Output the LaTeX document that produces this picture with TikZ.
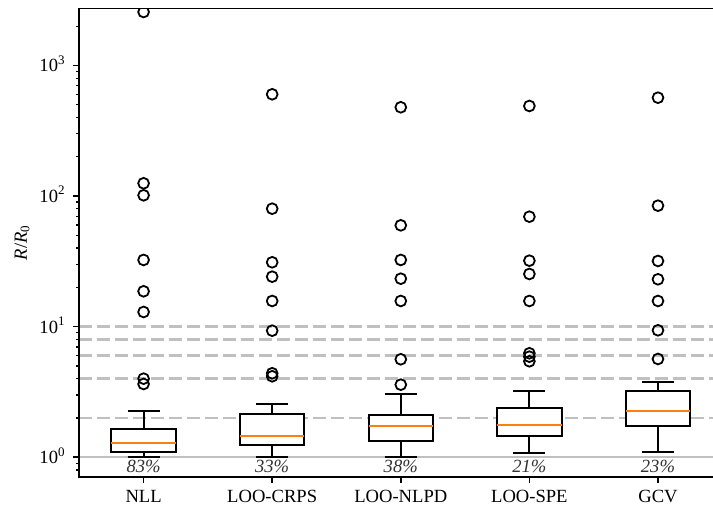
\documentclass[tikz,border=0pt]{standalone}
\usepackage{fontspec}
\setmainfont{Liberation Serif}
\usetikzlibrary{positioning}
\definecolor{medorange}{HTML}{FF7F0E}
\definecolor{guidegray}{HTML}{C0C0C0}
\newcommand{\tenexp}[1]{10\textsuperscript{#1}}

\begin{document}
\begin{tikzpicture}[x=64.3pt,y=65.3pt,font=\fontsize{9.3}{11}\selectfont,
    spine/.style={line width=0.9pt,line cap=rect},
    guide/.style={draw=guidegray,line width=1.3pt,dash pattern=on 6.4pt off 2.6pt},
    unity/.style={draw=guidegray,line width=1.1pt},
    boxline/.style={draw,fill=white,line width=1pt},
    medline/.style={draw=medorange,line width=1pt},
    flier/.style={draw,circle,line width=0.9pt,minimum size=5.4pt,inner sep=0pt},
    ticklbl/.style={inner sep=0pt}]
  \useasboundingbox (-0.1166,-0.419) rectangle (5.428,3.5015);
  % reference lines
  \foreach \g in {2,4,6,8,10}
    \draw[guide] (0.5,{log10(\g)}) -- (5.5,{log10(\g)});
  \draw[unity] (0.5,0) -- (5.5,0);
  % boxes: pos / whisker low / q1 / median / q3 / whisker high / share
  \foreach \pos/\wlo/\qlo/\med/\qhi/\whi/\pct in {
      1/0/0.0406/0.1118/0.2144/0.3522/83,
      2/0/0.0964/0.1631/0.3315/0.4058/33,
      3/0/0.1225/0.2420/0.3262/0.4847/38,
      4/0.0329/0.1654/0.2496/0.3752/0.5077/21,
      5/0.0406/0.2420/0.3545/0.5054/0.5743/23} {
    \draw[line width=1pt] (\pos,\qhi) -- (\pos,\whi) (\pos-0.125,\whi) -- (\pos+0.125,\whi);
    \draw[line width=1pt] (\pos,\qlo) -- (\pos,\wlo) (\pos-0.125,\wlo) -- (\pos+0.125,\wlo);
    \draw[boxline] (\pos-0.25,\qlo) rectangle (\pos+0.25,\qhi);
    \draw[medline] (\pos-0.25,\med) -- (\pos+0.25,\med);
    \node[ticklbl,anchor=north,text=black!80] (pct\pos) at (\pos,-0.017) {\textit{\pct\%}};
  }
  % outliers
  \begin{scope}
    \clip (0.5,-0.149) rectangle (5.5,3.437);
    \foreach \pos/\ys in {
        1/{3.4097,2.098,2.006,1.511,1.271,1.1126,0.602,0.5613},
        2/{2.7795,1.9035,1.4931,1.3829,1.1968,0.9694,0.6432,0.6202},
        3/{2.680,1.776,1.511,1.3675,1.1968,0.7504,0.5559},
        4/{2.690,1.8423,1.5054,1.4035,1.1968,0.7963,0.7703,0.7351},
        5/{2.7534,1.9265,1.5031,1.3629,1.1968,0.9724,0.7527}}
      \foreach \y [count=\k] in \ys
        \node[flier] (f\pos-\k) at (\pos,\y) {};
  \end{scope}
  % axes
  \draw[spine] (5.5,3.437) -- (0.5,3.437) -- (0.5,-0.149) -- (5.5,-0.149);
  \foreach \e in {0,1,2,3} {
    \draw[line width=0.8pt] (0.5,\e) -- ++(-3.25pt,0);
    \node[ticklbl,anchor=base east,yshift=-3.2pt] (ylbl\e) at (0.3966,\e) {\tenexp{\e}};
  }
  \foreach \m in {0.8,0.9,2,3,4,5,6,7,8,9,20,30,40,50,60,70,80,90,200,300,400,500,600,700,800,900,2000}
    \draw[line width=0.6pt] (0.5,{log10(\m)}) -- ++(-1.7pt,0);
  \foreach \pos/\name in {1/NLL,2/LOO-CRPS,3/LOO-NLPD,4/LOO-SPE,5/GCV} {
    \draw[line width=0.8pt] (\pos,-0.149) -- ++(0,-3pt);
    \node[ticklbl,anchor=north] (xlbl\pos) at (\pos,-0.2504) {\name};
  }
  \node[rotate=90,ticklbl] (ylabel) at (0.0544,1.644) {\textit{R}/\textit{R}\textsubscript{0}};
\end{tikzpicture}
\end{document}
